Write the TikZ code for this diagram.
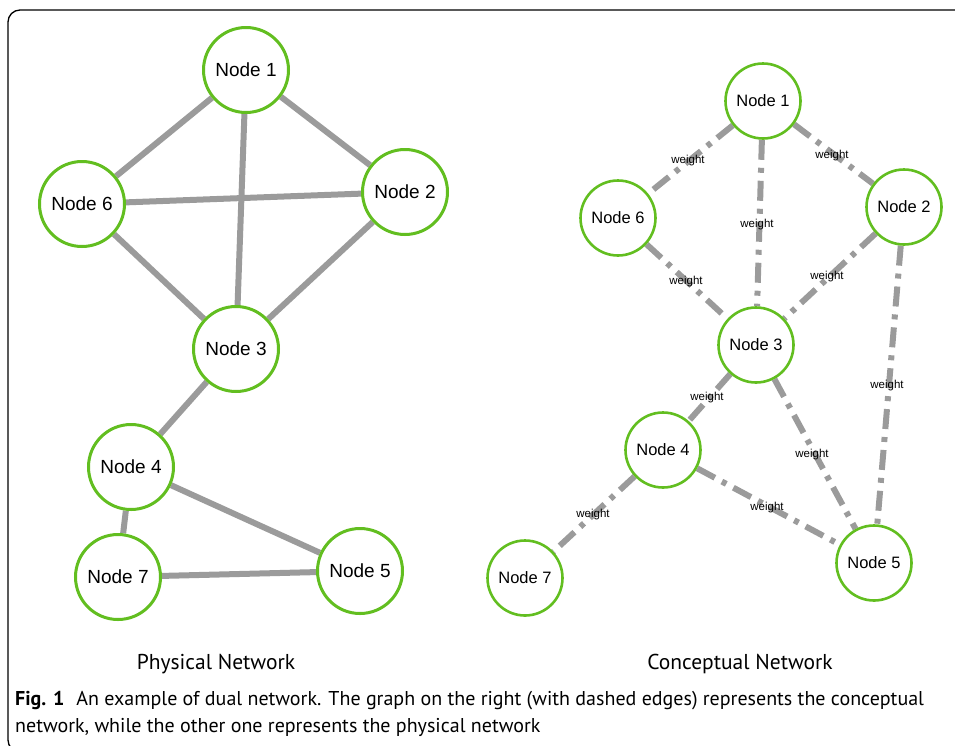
\documentclass[tikz,border=0pt]{standalone}
\usepackage{fontspec}
\setmainfont{Liberation Sans}
\newfontfamily\capfont{PT Sans}
\usetikzlibrary{backgrounds}
\definecolor{nodegreen}{RGB}{98,190,32}
\definecolor{edgegray}{RGB}{155,155,155}
\begin{document}
\begin{tikzpicture}[x=1pt,y=-1pt,
  pnode/.style={circle,draw=nodegreen,line width=3pt,fill=white,minimum size=85pt,inner sep=0pt,font=\fontsize{19}{21}\selectfont},
  cnode/.style={circle,draw=nodegreen,line width=2.6pt,fill=white,minimum size=75pt,inner sep=0pt,font=\fontsize{16.5}{18}\selectfont},
  pedge/.style={draw=edgegray,line width=6pt},
  cedge/.style={draw=edgegray,line width=6pt,dash pattern=on 20pt off 8pt on 5pt off 8pt},
  wlabel/.style={font=\fontsize{11.5}{12}\selectfont,inner sep=0pt},
  title/.style={font=\capfont\fontsize{21.5}{24}\selectfont},
  captext/.style={font=\capfont\fontsize{20}{22}\selectfont,anchor=west,inner sep=0pt}]
\useasboundingbox (0,0) rectangle (955,745);
\begin{scope}
\clip (0,0) rectangle (955,745);
\draw[line width=1.3pt,rounded corners=12pt] (40,752) -- (8,752) -- (8,10) -- (970,10);
\end{scope}

% Physical network
\node[pnode] (p1) at (246,70) {Node 1};
\node[pnode] (p6) at (82,204) {Node 6};
\node[pnode] (p2) at (405,192) {Node 2};
\node[pnode] (p3) at (236,349) {Node 3};
\node[pnode] (p4) at (131,467) {Node 4};
\node[pnode] (p7) at (118,577) {Node 7};
\node[pnode] (p5) at (360,571) {Node 5};
\begin{pgfonlayer}{background}
\draw[pedge] (p1) -- (p6);
\draw[pedge] (p1) -- (p2);
\draw[pedge] (p1) -- (p3);
\draw[pedge] (p6) -- (p2);
\draw[pedge] (p6) -- (p3);
\draw[pedge] (p2) -- (p3);
\draw[pedge] (p3) -- (p4);
\draw[pedge] (p4) -- (p7);
\draw[pedge] (p4) -- (p5);
\draw[pedge] (p7) -- (p5);
\end{pgfonlayer}

% Conceptual network
\node[cnode] (c1) at (763,101) {Node 1};
\node[cnode] (c6) at (618,218) {Node 6};
\node[cnode] (c2) at (904,207) {Node 2};
\node[cnode] (c3) at (756,345) {Node 3};
\node[cnode] (c4) at (663,450) {Node 4};
\node[cnode] (c7) at (525,578) {Node 7};
\node[cnode] (c5) at (874,563) {Node 5};
\begin{pgfonlayer}{background}
\draw[cedge] (c1) -- (c6);
\draw[cedge] (c1) -- (c3);
\draw[cedge] (c1) -- (c2);
\draw[cedge] (c6) -- (c3);
\draw[cedge] (c2) -- (c3);
\draw[cedge] (c2) -- (c5);
\draw[cedge] (c3) -- (c4);
\draw[cedge] (c3) -- (c5);
\draw[cedge] (c4) -- (c7);
\draw[cedge] (c4) -- (c5);
\end{pgfonlayer}
\node[wlabel] (w16) at (688,161) {weight};
\node[wlabel] (w13) at (757,225) {weight};
\node[wlabel] (w12) at (832,156) {weight};
\node[wlabel] (w63) at (686,282) {weight};
\node[wlabel] (w23) at (827,277) {weight};
\node[wlabel] (w25) at (887,386) {weight};
\node[wlabel] (w34) at (707,398) {weight};
\node[wlabel] (w35) at (812,455) {weight};
\node[wlabel] (w45) at (767,508) {weight};
\node[wlabel] (w47) at (593,515) {weight};

% Titles and caption
\node[title] (t1) at (216,664) {Physical Network};
\node[title] (t2) at (740,664) {Conceptual Network};
\node[captext] (cap1) at (15,701) {\textbf{Fig. 1}\hspace{0.6em}An example of dual network. The graph on the right (with dashed edges) represents the conceptual};
\node[captext] (cap2) at (15,727) {network, while the other one represents the physical network};
\end{tikzpicture}
\end{document}
